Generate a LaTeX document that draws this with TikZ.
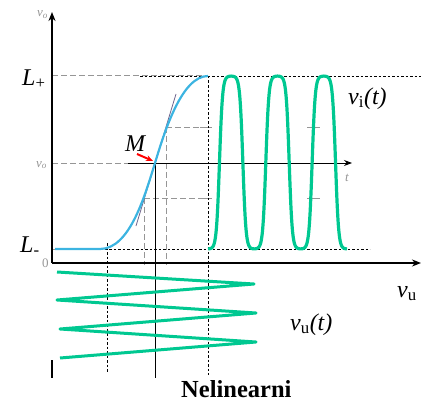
\documentclass[tikz,border=0pt]{standalone}
\usepackage{fontspec}
\setmainfont{Liberation Serif}
\usetikzlibrary{arrows.meta}
\definecolor{curveblue}{RGB}{60,180,225}
\definecolor{wavegreen}{RGB}{0,200,145}
\definecolor{guidegrey}{RGB}{150,150,150}
\definecolor{tangentcol}{RGB}{110,100,140}
\begin{document}
\begin{tikzpicture}[x=1pt,y=-1pt,
  axisline/.style={line width=1.8pt,black,-{Stealth[length=9pt,width=7pt]}},
  taxis/.style={line width=0.9pt,black,-{Stealth[length=8pt,width=6pt]}},
  greydash/.style={guidegrey,line width=1pt,dash pattern=on 6pt off 3pt},
  blackdot/.style={black,line width=0.8pt,dash pattern=on 2.5pt off 2pt},
  transfer/.style={curveblue,line width=2.2pt},
  wave/.style={wavegreen,line width=3.2pt,line join=round},
  biglabel/.style={font=\fontsize{24}{28}\selectfont,inner sep=0pt},
  smalllabel/.style={font=\fontsize{13}{15}\selectfont,text=guidegrey,inner sep=0pt},
  marker/.style={red,line width=2pt,-{Stealth[length=7pt,width=6pt]}}]
\useasboundingbox (0,0) rectangle (423,404);
% key coordinates
\coordinate (O) at (52,263);
\coordinate (Ytop) at (52,12);
\coordinate (Xend) at (421,263);
\coordinate (M) at (155,163);
\coordinate (Lp0) at (52,76);
\coordinate (Lm0) at (52,249);
\coordinate (Vo0) at (52,163);
\coordinate (Top) at (208,76);
\coordinate (Bot) at (100,249);
% grey dashed guides
\draw[greydash] (Lp0) -- (Top);
\draw[greydash] (Vo0) -- (128,163);
\draw[greydash] (166,127) -- (210,127);
\draw[greydash] (144,198) -- (210,198);
\draw[greydash] (166,127) -- (166,265);
\draw[greydash] (144,198) -- (144,265);
\draw[greydash] (Lm0) -- (62,249);
\draw[guidegrey,line width=0.8pt] (200,127) -- (212,127) (307,127) -- (320,127);
\draw[guidegrey,line width=0.8pt] (200,198) -- (212,198) (307,198) -- (320,198);
% black dotted guides
\draw[blackdot] (140,76) -- (421,76);
\draw[blackdot] (Bot) -- (370,249);
\draw[blackdot] (107,243) -- (107,372);
\draw[blackdot] (Top) -- (208,375);
% axes
\draw[axisline] (O) -- (Ytop);
\draw[axisline] (O) -- (Xend);
\draw[taxis] (128,163) -- (352,163);
\draw[black,line width=0.9pt] (M) -- (155,378);
\draw[black,line width=1.8pt] (52,360) -- (52,378);
% transfer curve and tangent
\draw[tangentcol,line width=0.8pt] (136,226) -- (176,94);
\draw[transfer] (55,249) -- (Bot) .. controls (130,249) and (145,195) .. (M)
  .. controls (165,130) and (182,76) .. (Top);
% input triangle wave
\draw[wave,line width=3pt] (57,272) -- (254,284) -- (57,300) -- (256,313) -- (60,329) -- (256,342) -- (60,358);
% output wave
\draw[wave] plot[domain=208:347,samples=400]
  (\x,{249-86.5*(1+tanh(0.038*(57+198*(1-abs(1-2*mod((\x-208)/46.333,1)))-155)))});
% marker arrow
\draw[marker] (137,154) -- (153,161);
% labels
\node[biglabel,anchor=base west] (lplus) at (22,85) {\textit{L}\textsubscript{+}};
\node[biglabel,anchor=base west] (lminus) at (20,252) {\textit{L}\textsubscript{-}};
\node[biglabel,anchor=base west] (mlab) at (125,151) {\textit{M}};
\node[biglabel,anchor=base west] (vit) at (348,104) {\textit{v}\textsubscript{i}\textit{(t)}};
\node[biglabel,anchor=base west] (vut) at (290,330) {\textit{v}\textsubscript{u}\textit{(t)}};
\node[biglabel,anchor=base west] (vu) at (397,297) {\textit{v}\textsubscript{u}};
\node[smalllabel,anchor=base west] (votop) at (37,17) {\textit{v}\textsubscript{\textit{o}}};
\node[smalllabel,anchor=base west] (voleft) at (36,167) {\textit{v}\textsubscript{\textit{o}}};
\node[smalllabel,anchor=base west] (tlab) at (345,181) {\textit{t}};
\node[smalllabel,anchor=base west] (zero) at (42,267) {0};
\node[font=\fontsize{24.5}{28}\selectfont\bfseries,inner sep=0pt,anchor=base west] (title) at (181,397) {Nelinearni};
\end{tikzpicture}
\end{document}
